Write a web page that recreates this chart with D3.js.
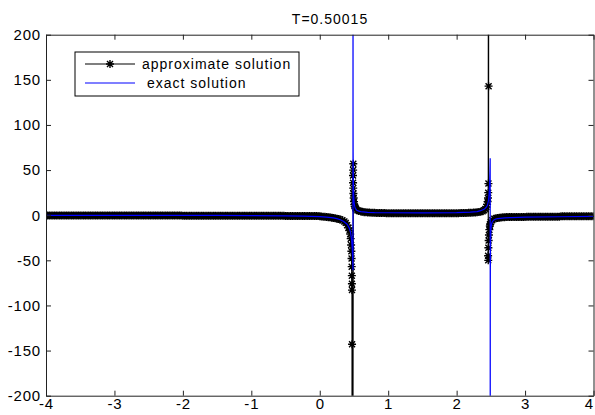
<!DOCTYPE html>
<html><head><meta charset="utf-8">
<script src="https://cdn.jsdelivr.net/npm/d3@7"></script>
<style>
html,body{margin:0;padding:0;background:#fff;}
svg text{font-family:"Liberation Sans",Arial,sans-serif;}
</style></head>
<body><svg id="chart" width="595" height="415"></svg>
<script>
const chartTitle = "T=0.50015";
const legendLabels = ["approximate solution", " exact solution"];
const xTicks = [-4, -3, -2, -1, 0, 1, 2, 3, 4];
const yTicks = [-200, -150, -100, -50, 0, 50, 100, 150, 200];

// approximate solution (black, '*' markers)
const approxX = [
 -4,-3.975,-3.95,-3.925,-3.9,-3.875,-3.85,-3.825,-3.8,-3.775,-3.75,-3.725,-3.7,-3.675,-3.65,-3.625,-3.6,-3.575,-3.55,-3.525,
 -3.5,-3.475,-3.45,-3.425,-3.4,-3.375,-3.35,-3.325,-3.3,-3.275,-3.25,-3.225,-3.2,-3.175,-3.15,-3.125,-3.1,-3.075,-3.05,-3.025,
 -3,-2.975,-2.95,-2.925,-2.9,-2.875,-2.85,-2.825,-2.8,-2.775,-2.75,-2.725,-2.7,-2.675,-2.65,-2.625,-2.6,-2.575,-2.55,-2.525,
 -2.5,-2.475,-2.45,-2.425,-2.4,-2.375,-2.35,-2.325,-2.3,-2.275,-2.25,-2.225,-2.2,-2.175,-2.15,-2.125,-2.1,-2.075,-2.05,-2.025,
 -2,-1.975,-1.95,-1.925,-1.9,-1.875,-1.85,-1.825,-1.8,-1.775,-1.75,-1.725,-1.7,-1.675,-1.65,-1.625,-1.6,-1.575,-1.55,-1.525,
 -1.5,-1.475,-1.45,-1.425,-1.4,-1.375,-1.35,-1.325,-1.3,-1.275,-1.25,-1.225,-1.2,-1.175,-1.15,-1.125,-1.1,-1.075,-1.05,-1.025,
 -1,-0.975,-0.95,-0.925,-0.9,-0.875,-0.85,-0.825,-0.8,-0.775,-0.75,-0.725,-0.7,-0.675,-0.65,-0.625,-0.6,-0.575,-0.55,-0.525,
 -0.5,-0.475,-0.45,-0.425,-0.4,-0.375,-0.35,-0.325,-0.3,-0.275,-0.25,-0.225,-0.2,-0.175,-0.15,-0.125,-0.1,-0.075,-0.05,-0.025,
 0,0.025,0.05,0.075,0.1,0.125,0.15,0.175,0.2,0.225,0.25,0.275,0.3,
 0.33,0.36,0.38,0.4,0.42,0.435,0.445,0.452,0.458,0.462,0.465,0.467,0.469,0.47,0.471,0.472,0.473,
 0.49,0.488,0.486,0.487,0.489,0.492,0.496,0.5,0.505,0.51,0.52,0.53,0.55,0.57,0.6,0.625,0.65,0.675,0.7,0.725,0.75,
 0.775,0.8,0.825,0.85,0.875,0.9,0.925,0.95,0.975,
 1,1.025,1.05,1.075,1.1,1.125,1.15,1.175,1.2,1.225,1.25,1.275,1.3,1.325,1.35,1.375,1.4,1.425,1.45,1.475,
 1.5,1.525,1.55,1.575,1.6,1.625,1.65,1.675,1.7,1.725,1.75,1.775,1.8,1.825,1.85,1.875,1.9,1.925,1.95,1.975,2,
 2.025,2.05,2.075,2.1,2.125,2.15,2.175,2.2,2.225,2.25,
 2.275,2.3,2.325,2.35,2.38,2.4,2.42,2.435,2.445,2.453,2.458,2.462,2.465,2.467,2.468,
 2.462,2.46,2.464,2.468,2.472,2.478,2.485,2.49,2.5,2.52,2.55,2.575,2.6,2.625,2.65,2.675,2.7,2.725,2.75,
 2.775,2.8,2.825,2.85,2.875,2.9,2.925,2.95,2.975,3,
 3.025,3.05,3.075,3.1,3.125,3.15,3.175,3.2,3.225,3.25,3.275,3.3,3.325,3.35,3.375,3.4,3.425,3.45,3.475,3.5,
 3.525,3.55,3.575,3.6,3.625,3.65,3.675,3.7,3.725,3.75,3.775,3.8,3.825,3.85,3.875,3.9,3.925,3.95,3.975,4
];
const approxY = [
 -0.4,-0.4,-0.4,-0.4,-0.4,-0.4,-0.4,-0.4,-0.4,-0.4,-0.4,-0.4,-0.4,-0.4,-0.4,-0.4,-0.4,-0.4,-0.4,-0.4,
 -0.4,-0.4,-0.4,-0.4,-0.4,-0.4,-0.4,-0.4,-0.4,-0.4,-0.4,-0.4,-0.4,-0.4,-0.4,-0.4,-0.4,-0.4,-0.4,-0.4,
 -0.4,-0.4,-0.4,-0.4,-0.4,-0.4,-0.4,-0.4,-0.4,-0.4,-0.4,-0.4,-0.4,-0.4,-0.4,-0.4,-0.4,-0.4,-0.4,-0.4,
 -0.4,-0.4,-0.4,-0.4,-0.4,-0.4,-0.4,-0.4,-0.4,-0.4,-0.4,-0.4,-0.4,-0.4,-0.4,-0.4,-0.4,-0.4,-0.4,-0.4,
 -0.5,-0.5,-0.5,-0.5,-0.5,-0.5,-0.5,-0.5,-0.5,-0.5,-0.5,-0.5,-0.5,-0.5,-0.5,-0.5,-0.5,-0.5,-0.5,-0.5,
 -0.5,-0.5,-0.5,-0.5,-0.5,-0.5,-0.5,-0.5,-0.5,-0.5,-0.5,-0.5,-0.5,-0.5,-0.5,-0.5,-0.5,-0.5,-0.5,-0.5,
 -0.7,-0.7,-0.7,-0.7,-0.7,-0.7,-0.7,-0.7,-0.7,-0.7,-0.7,-0.7,-0.7,-0.7,-0.7,-0.7,-0.7,-0.7,-0.7,-0.7,
 -0.8,-0.8,-0.8,-0.8,-0.8,-0.8,-0.8,-0.8,-0.8,-0.8,-1,-1,-1,-1,-1,-1,-1,-1,-1,-1,
 -1.3,-1.45,-1.6,-1.8,-2,-2.2,-2.4,-2.7,-3,-3.4,-3.8,-4.3,-4.8,
 -5.5,-7,-8.5,-11,-14,-17,-21,-26,-33,-40,-48,-57,-67,-76,-83,-143,-1000,
 57,50,44,36,30,24,19,15,12,10,8,7,5.5,4.6,4,3.7,3.4,3.2,3,2.9,2.8,
 2.7,2.6,2.55,2.5,2.45,2.4,2.35,2.3,2.25,
 2.2,2.2,2.2,2.2,2.2,2.2,2.2,2.2,2.2,2.2,2.2,2.2,2.2,2.2,2.2,2.2,2.2,2.2,2.2,2.2,
 2.2,2.2,2.2,2.2,2.2,2.2,2.2,2.2,2.2,2.2,2.2,2.2,2.2,2.2,2.2,2.2,2.2,2.2,2.2,2.2,2.2,
 2.25,2.3,2.35,2.4,2.45,2.5,2.6,2.7,2.8,2.9,
 3,3.2,3.5,3.8,4.5,5.5,7,9,12,15,19,25,35,143,1000,
 -50,-45,-36,-28,-22,-16,-12,-10,-7.5,-5.5,-4,-3.5,-3,-2.7,-2.5,-2.3,-2.2,-2.1,-2,
 -2,-1.9,-1.9,-1.9,-1.9,-1.9,-1.9,-1.9,-1.9,-1.9,
 -1.6,-1.6,-1.6,-1.6,-1.6,-1.6,-1.6,-1.6,-1.6,-1.6,-1.6,-1.6,-1.6,-1.6,-1.6,-1.6,-1.6,-1.6,-1.6,-1.6,
 -1.3,-1.3,-1.3,-1.3,-1.3,-1.3,-1.3,-1.3,-1.3,-1.3,-1.3,-1.3,-1.3,-1.3,-1.3,-1.3,-1.3,-1.3,-1.3,-1.3
];

// exact solution (blue line)
const exactX = [-4,-3,-2,-1.5,-1,-0.5,-0.25,0,0.1,0.2,0.25,0.3,0.35,0.4,0.43,0.45,0.465,0.475,0.481,0.4855,
 0.486,0.4868,0.488,0.49,0.493,0.497,0.502,0.51,0.52,0.54,0.57,0.6,0.7,0.8,1,1.5,2,2.2,2.3,2.35,2.4,2.43,2.45,2.465,2.475,2.482,2.487,2.4905,
 2.491,2.4918,2.493,2.495,2.498,2.503,2.51,2.52,2.54,2.57,2.6,2.7,2.8,3,3.5,4];
const exactY = [-0.1,-0.15,-0.2,-0.3,-0.4,-0.7,-1,-1.6,-2.2,-3,-3.8,-5,-7,-10,-14,-19,-27,-38,-48,-61,
 800,121,70,45,30,20,14,10,7.5,5.5,4.5,4,3.2,2.9,2.7,2.6,2.8,3.3,4,5,6.5,8.5,11,16,24,35,50,63,
 -800,-121,-60,-35,-22,-14,-10,-7.5,-5.5,-4.3,-3.7,-3,-2.6,-2.2,-1.7,-1.3];

const svg = d3.select("#chart");
const L = 46, R = 593.5, T = 34.7, B = 395.7;
const x = d3.scaleLinear().domain([-4, 4]).range([L, R]);
const y = d3.scaleLinear().domain([-200, 200]).range([B, T]);

svg.append("rect").attr("x",0).attr("y",0).attr("width",595).attr("height",415).attr("fill","#fff");

svg.append("defs").append("clipPath").attr("id","clip")
  .append("rect").attr("x",L).attr("y",T).attr("width",R-L).attr("height",B-T);

const plot = svg.append("g").attr("clip-path","url(#clip)");
const starPath = "M-4,0H4M0,-4V4M-3,-3L3,3M-3,3L3,-3";

const approx = approxX.map((d,i)=>[d, approxY[i]]);
const exact = exactX.map((d,i)=>[d, exactY[i]]);
const line = d3.line().x(d=>x(d[0])).y(d=>y(d[1]));

plot.append("path").datum(approx).attr("d", line).attr("fill","none").attr("stroke","#000").attr("stroke-width",1.2);
plot.append("g").selectAll("path").data(approx).join("path")
  .attr("transform", d=>`translate(${x(d[0])},${y(d[1])})`)
  .attr("d", starPath).attr("stroke","#000").attr("stroke-width",1.4).attr("fill","none");
plot.append("path").datum(exact).attr("d", line).attr("fill","none").attr("stroke","#0000ff").attr("stroke-width",1.2);

// axes
const fmt = d => String(d);
const axCol = "#222";
function styleAxis(g){
  g.select(".domain").attr("stroke", axCol);
  g.selectAll(".tick line").attr("stroke", axCol);
  g.selectAll(".tick text").attr("fill","#000").style("font-size","15px").style("letter-spacing","0.8px")
   .style("font-family","'Liberation Sans',Arial,sans-serif");
}
const gx = svg.append("g").attr("transform",`translate(0,${B})`)
  .call(d3.axisBottom(x).tickValues(xTicks).tickFormat(fmt).tickSize(-5).tickSizeOuter(0).tickPadding(3)).call(styleAxis);
gx.selectAll(".tick text").filter(d => d === 4).attr("text-anchor","end").attr("dx","0");
svg.append("g").attr("transform",`translate(0,${T})`)
  .call(d3.axisTop(x).tickValues(xTicks).tickFormat("").tickSize(-5).tickSizeOuter(0)).call(styleAxis);
svg.append("g").attr("transform",`translate(${L},0)`)
  .call(d3.axisLeft(y).tickValues(yTicks).tickFormat(fmt).tickSize(-5).tickSizeOuter(0).tickPadding(5)).call(styleAxis);
svg.append("g").attr("transform",`translate(${R},0)`)
  .call(d3.axisRight(y).tickValues(yTicks).tickFormat("").tickSize(-5).tickSizeOuter(0)).call(styleAxis);

// title
svg.append("text").attr("x",330).attr("y",24).attr("text-anchor","middle")
  .style("font-size","14px").style("letter-spacing","1px").text(chartTitle);

// legend
const lg = svg.append("g");
lg.append("rect").attr("x",75).attr("y",52).attr("width",224).attr("height",44).attr("fill","#fff").attr("stroke","#000").attr("stroke-width",1);
lg.append("line").attr("x1",85).attr("x2",135).attr("y1",64).attr("y2",64).attr("stroke","#000").attr("stroke-width",1.2);
lg.append("path").attr("d",starPath).attr("transform","translate(110,64)").attr("stroke","#000").attr("stroke-width",1.4);
lg.append("line").attr("x1",85).attr("x2",135).attr("y1",83).attr("y2",83).attr("stroke","#0000ff").attr("stroke-width",1.2);
lg.append("text").attr("x",142).attr("y",69).style("font-size","14px").style("letter-spacing","1px").text(legendLabels[0]);
lg.append("text").attr("x",142).attr("y",88).style("font-size","14px").style("letter-spacing","1px").style("white-space","pre").text(legendLabels[1]);
</script></body></html>
